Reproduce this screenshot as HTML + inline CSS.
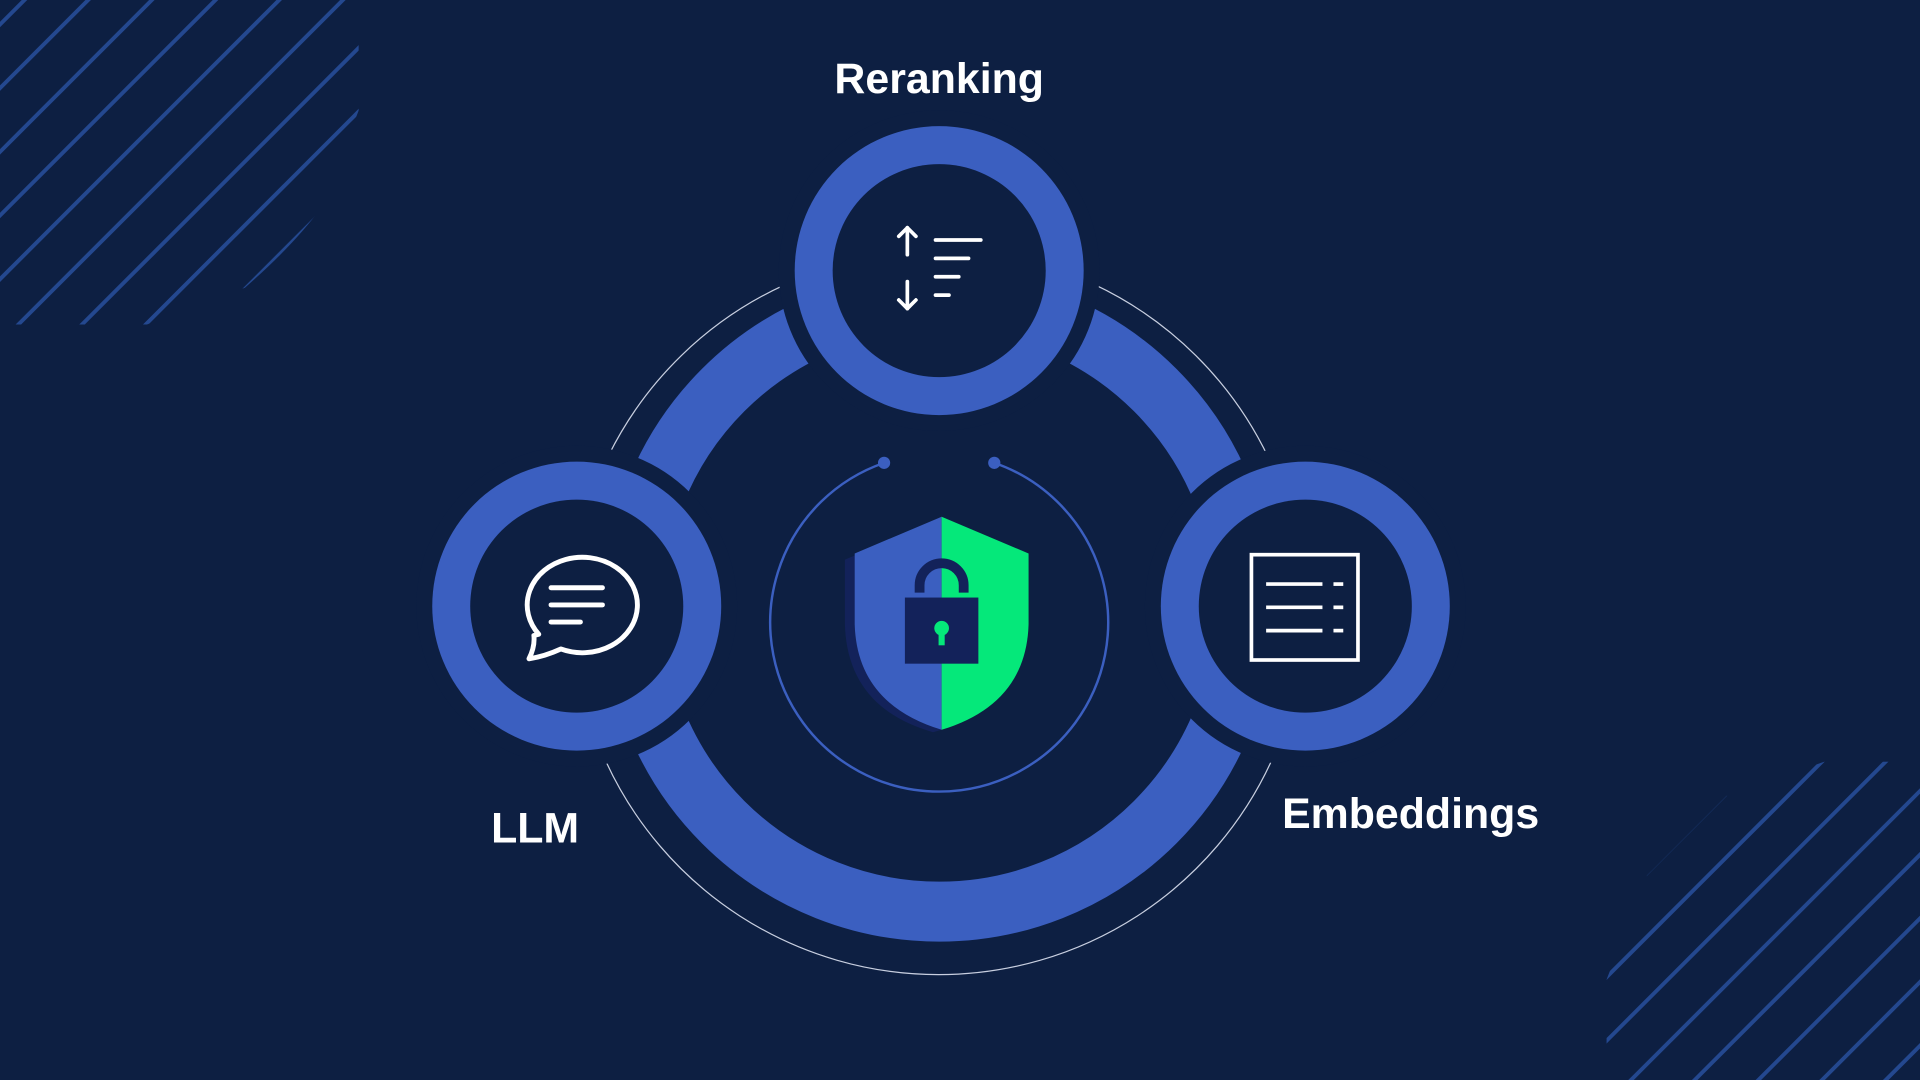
<!DOCTYPE html>
<html><head><meta charset="utf-8"><style>
html,body{margin:0;padding:0;background:#0d1f42;width:1920px;height:1080px;overflow:hidden;}
svg{display:block;}
text{font-family:"Liberation Sans",sans-serif;font-weight:bold;fill:#fff;}
</style></head><body>
<svg width="1920" height="1080" viewBox="0 0 1568 882" xmlns="http://www.w3.org/2000/svg">
<defs>
<clipPath id="tl"><path d="M0 0 H293 V90 L262 170 Q240 200 200 235 L120 265 H0 Z"/></clipPath>
<clipPath id="br"><path d="M1568 882 H1312 V800 L1345 715 L1410 650 L1490 622 H1568 Z"/></clipPath>
</defs>
<rect width="1568" height="882" fill="#0d1f42"/>
<g stroke="#24488f" stroke-width="3.2" clip-path="url(#tl)">
<line x1="-10" y1="30" x2="40" y2="-20"/><line x1="-10" y1="82" x2="92" y2="-20"/><line x1="-10" y1="134" x2="144" y2="-20"/><line x1="-10" y1="186" x2="196" y2="-20"/><line x1="-10" y1="238" x2="248" y2="-20"/><line x1="-10" y1="290" x2="300" y2="-20"/><line x1="-10" y1="342" x2="352" y2="-20"/><line x1="-10" y1="394" x2="404" y2="-20"/><line x1="-10" y1="446" x2="456" y2="-20"/><line x1="-10" y1="498" x2="508" y2="-20"/>
</g>
<g stroke="#24488f" stroke-width="3.2" clip-path="url(#br)">
<line x1="1300" y1="862" x2="1600" y2="562"/><line x1="1300" y1="914" x2="1650" y2="564"/><line x1="1300" y1="966" x2="1700" y2="566"/><line x1="1300" y1="1018" x2="1750" y2="568"/><line x1="1300" y1="1070" x2="1800" y2="570"/><line x1="1300" y1="810" x2="1560" y2="550"/><line x1="1300" y1="758" x2="1520" y2="538"/><line x1="1300" y1="1122" x2="1850" y2="572"/>
</g>
<g fill="none" stroke="#c8cfe0" stroke-width="1">
<path d="M497 372 A299 299 0 0 1 640 233"/>
<path d="M893 232 A299 299 0 0 1 1036 374"/>
<path d="M494 620 A299 299 0 0 0 1039 620"/>
</g>
<circle cx="767" cy="495" r="249.5" fill="none" stroke="#3b5fc0" stroke-width="49"/>
<g stroke="#0d1f42" stroke-width="26">
<circle cx="767" cy="221" r="118" fill="#3b5fc0"/>
<circle cx="471" cy="495" r="118" fill="#3b5fc0"/>
<circle cx="1066" cy="495" r="118" fill="#3b5fc0"/>
</g>
<circle cx="767" cy="221" r="118" fill="#3b5fc0"/>
<circle cx="471" cy="495" r="118" fill="#3b5fc0"/>
<circle cx="1066" cy="495" r="118" fill="#3b5fc0"/>
<circle cx="767" cy="221" r="87" fill="#0d1f42"/>
<circle cx="471" cy="495" r="87" fill="#0d1f42"/>
<circle cx="1066" cy="495" r="87" fill="#0d1f42"/>
<path d="M722 378 A138 138 0 1 0 812 378" fill="none" stroke="#3b5fc0" stroke-width="2"/>
<circle cx="722" cy="378" r="5" fill="#3b5fc0"/>
<circle cx="812" cy="378" r="5" fill="#3b5fc0"/>
<path d="M769 424 L690 457 V510 Q692 578 762 598 L769 596 Z" fill="#13225a"/>
<path d="M769 422 L698 452 V510 Q700 575 769 596 Z" fill="#3b5fc0"/>
<path d="M769 422 L840 452 V510 Q838 575 769 596 Z" fill="#05e87a"/>
<path d="M751 484 V478 A18 18 0 0 1 787 478 V484" fill="none" stroke="#13225a" stroke-width="8"/>
<rect x="739" y="488" width="60" height="54" fill="#13225a"/>
<circle cx="769" cy="513" r="6" fill="#05e87a"/>
<rect x="766.5" y="515" width="5" height="12" fill="#05e87a"/>
<g stroke="#fff" stroke-width="3" fill="none" stroke-linecap="round" stroke-linejoin="round">
<line x1="741" y1="186" x2="741" y2="208"/><polyline points="734,193 741,186 748,193"/>
<line x1="741" y1="230" x2="741" y2="252"/><polyline points="734,245 741,252 748,245"/>
<line x1="764" y1="196" x2="801" y2="196"/><line x1="764" y1="211" x2="791" y2="211"/><line x1="764" y1="226" x2="783" y2="226"/><line x1="764" y1="241" x2="775" y2="241"/>
</g>
<g stroke="#fff" stroke-width="4" fill="none" stroke-linecap="round" stroke-linejoin="round">
<path d="M440 518 A45 39 0 1 1 458 530 Q445 536 432 538 Q437 528 436 519 Z"/>
<line x1="450" y1="480" x2="492" y2="480"/><line x1="450" y1="494" x2="492" y2="494"/><line x1="450" y1="508" x2="474" y2="508"/>
</g>
<g stroke="#fff" stroke-width="3" fill="none">
<rect x="1022" y="453" width="87" height="86"/>
<line x1="1034" y1="477" x2="1080" y2="477"/><line x1="1034" y1="496" x2="1080" y2="496"/><line x1="1034" y1="515" x2="1080" y2="515"/>
<line x1="1089" y1="477" x2="1097" y2="477"/><line x1="1089" y1="496" x2="1097" y2="496"/><line x1="1089" y1="515" x2="1097" y2="515"/>
</g>
<text x="767" y="76" font-size="35" text-anchor="middle">Reranking</text>
<text x="437" y="688" font-size="35" text-anchor="middle">LLM</text>
<text x="1152" y="676" font-size="35" text-anchor="middle">Embeddings</text>
</svg>
</body></html>
